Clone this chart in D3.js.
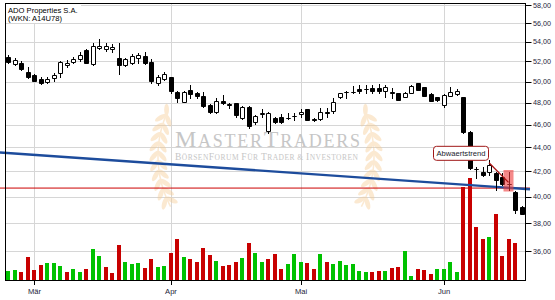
<!DOCTYPE html>
<html>
<head>
<meta charset="utf-8">
<script src="https://cdn.jsdelivr.net/npm/d3@7"></script>
<style>
  body { margin: 0; background: #fff; }
  svg { display: block; font-family: "Liberation Sans", Arial, sans-serif; }
</style>
</head>
<body>
<svg width="555" height="300"></svg>
<script>
// trading days shown (Xetra, 2019)
const dates = [
  "2019-02-25","2019-02-26","2019-02-27","2019-02-28",
  "2019-03-01","2019-03-04","2019-03-05","2019-03-06","2019-03-07","2019-03-08","2019-03-11","2019-03-12",
  "2019-03-13","2019-03-14","2019-03-15","2019-03-18","2019-03-19","2019-03-20","2019-03-21","2019-03-22",
  "2019-03-25","2019-03-26","2019-03-27","2019-03-28","2019-03-29",
  "2019-04-01","2019-04-02","2019-04-03","2019-04-04","2019-04-05","2019-04-08","2019-04-09","2019-04-10",
  "2019-04-11","2019-04-12","2019-04-15","2019-04-16","2019-04-17","2019-04-18","2019-04-23","2019-04-24",
  "2019-04-25","2019-04-26","2019-04-29","2019-04-30",
  "2019-05-02","2019-05-03","2019-05-06","2019-05-07","2019-05-08","2019-05-09","2019-05-10","2019-05-13",
  "2019-05-14","2019-05-15","2019-05-16","2019-05-17","2019-05-20","2019-05-21","2019-05-22","2019-05-23",
  "2019-05-24","2019-05-27","2019-05-28","2019-05-29","2019-05-30","2019-05-31",
  "2019-06-03","2019-06-04","2019-06-05","2019-06-06","2019-06-07","2019-06-10","2019-06-11","2019-06-12",
  "2019-06-13","2019-06-14","2019-06-17","2019-06-18","2019-06-19"
]

const open = [
  52.41,51.73,51.86,50.98,50.65,50.29,49.99,50.33,50.82,51.61,
  51.93,52.27,53.16,51.70,53.34,53.30,53.24,52.31,51.64,51.86,
  52.31,52.55,51.96,49.90,50.26,50.42,48.98,48.09,49.20,48.94,
  48.63,47.78,47.12,48.15,47.87,47.94,46.57,47.57,46.21,46.99,
  45.47,46.57,46.72,46.55,46.75,46.94,47.39,46.46,46.48,47.12,
  47.26,48.57,48.95,48.99,49.30,49.24,49.36,49.36,49.13,48.98,
  48.89,48.57,48.94,49.84,49.46,48.82,48.51,47.78,48.63,48.82,
  48.51,45.38,42.21,41.98,41.98,41.90,41.57,41.03,40.40,39.24
]
const high = [
  52.65,52.34,52.03,51.41,50.75,50.46,50.42,50.88,52.03,52.13,
  52.47,52.93,53.27,53.86,54.28,53.86,53.78,53.92,52.34,52.75,
  52.89,52.96,52.21,50.65,50.92,50.46,49.11,49.06,49.68,48.98,
  48.98,47.87,48.41,48.72,47.99,47.96,47.69,47.65,46.90,47.42,
  47.10,46.72,46.96,47.03,47.03,47.39,47.42,46.60,47.48,47.48,
  48.41,48.91,49.13,49.58,49.68,49.68,49.68,49.77,49.68,49.36,
  48.91,49.01,49.63,49.87,49.49,48.87,48.54,48.77,49.46,49.27,
  48.54,45.40,42.40,42.40,42.96,41.96,41.84,41.98,40.41,39.26
]
const low = [
  51.83,51.64,51.14,50.35,50.06,49.77,49.84,50.09,50.48,51.41,
  51.80,52.06,51.83,51.64,53.27,53.06,52.99,50.75,51.54,51.78,
  51.80,51.78,49.84,49.68,50.19,48.94,48.09,48.06,48.41,48.41,
  47.63,47.03,47.05,47.87,47.48,46.72,46.51,45.73,46.05,46.69,
  45.24,46.12,46.12,46.54,46.42,46.72,46.37,46.33,46.42,46.72,
  47.08,48.44,48.41,48.94,48.94,48.89,48.89,48.89,48.56,48.41,
  48.20,48.51,48.91,49.15,48.58,48.12,48.15,47.63,48.58,48.72,
  45.29,42.23,41.48,41.64,41.72,40.54,40.95,40.54,38.74,38.65
]
const close = [
  51.93,52.13,51.24,50.42,50.09,49.90,50.26,50.65,51.90,51.86,
  52.21,52.62,51.86,53.58,53.61,53.55,53.51,51.64,52.24,52.55,
  52.65,51.86,50.09,50.48,50.72,49.13,48.41,48.98,48.79,48.63,
  47.69,47.17,48.18,47.94,47.75,46.87,47.63,45.88,46.78,47.05,
  47.03,46.26,46.21,46.60,46.78,47.17,46.42,46.39,47.17,47.08,
  48.09,48.89,48.98,49.02,49.06,49.27,49.11,49.09,49.51,48.94,
  48.25,48.94,49.58,49.20,48.63,48.15,48.20,48.72,49.04,49.06,
  45.38,42.27,42.17,41.72,42.54,41.33,40.99,40.97,38.94,38.69
]
const prevClose = 51.80

// volume in thousand shares (last day has none yet)
const volume = [
  90,100,80,230,100,150,170,170,140,80,
  110,80,110,310,240,130,70,350,180,160,
  170,120,210,130,140,270,410,230,210,180,
  320,250,190,140,150,180,220,370,270,180,
  210,260,110,160,260,180,170,110,260,180,
  160,190,150,160,90,83,83,90,90,123,
  130,293,40,113,103,60,113,113,183,83,
  933,1020,533,410,430,660,243,410,373,null
]

const priceTicks = [36, 38, 40, 42, 44, 46, 48, 50, 52, 54, 56, 58]
const monthTicks = [["Mär", "2019-03-01"], ["Apr", "2019-04-01"], ["Mai", "2019-05-02"], ["Jun", "2019-06-03"]]
const titleLines = ["ADO Properties S.A.", "(WKN: A14U78)"]

// drawings
const supportLevel = 40.67
const longTrend = [["2019-02-25", 43.53], ["2019-06-19", 40.62]]
const downTrend = [["2019-06-12", 42.71], ["2019-06-17", 41.12]]
const downTrendLabel = "Abwaertstrend"
const highlight = ["2019-06-17", 40.40, 42.12]

const svg = d3.select("svg")
const W = 555, H = 300
const pLeft = 5, pRight = 525.5, pTop = 3.5, pBottom = 280

const x = d3.scalePoint().domain(dates).range([8, 521.5])
const y = d3.scaleLog().domain([34.03, 58]).range([pBottom, 5])
const yVol = d3.scaleLinear().domain([0, 1200]).range([pBottom, 160])

const green = "#00c200", red = "#c80000"

svg.append("rect").attr("width", W).attr("height", H).attr("fill", "#fff")

// grid
const grid = svg.append("g").attr("stroke", "#d6d6d6").attr("stroke-width", 1)
grid.selectAll("line.h").data(priceTicks).enter().append("line")
  .attr("x1", pLeft).attr("x2", pRight)
  .attr("y1", d => Math.round(y(d)) + 0.5).attr("y2", d => Math.round(y(d)) + 0.5)
grid.selectAll("line.v").data(monthTicks).enter().append("line")
  .attr("x1", d => Math.round(x(d[1])) + 0.5).attr("x2", d => Math.round(x(d[1])) + 0.5)
  .attr("y1", pTop).attr("y2", pBottom)

// watermark
const wm = svg.append("g")
const leafColor = "#f6cb93"
function laurel(sign) {
  const cx = 266, cy = 156, r = 108
  const g = wm.append("g").attr("fill", leafColor).attr("opacity", 0.42)
  const a0 = 152, a1 = 203
  const arc = d3.range(a0, a1 + 0.1, 0.5).map(a => {
    const t = a * Math.PI / 180
    return [cx + sign * r * Math.cos(t), cy + r * Math.sin(t)]
  })
  g.append("path").attr("d", d3.line()(arc)).attr("fill", "none")
    .attr("stroke", leafColor).attr("stroke-width", 1.5)
  d3.range(a0 + 3, a1, 5).forEach(a => {
    const t = a * Math.PI / 180
    const px = cx + sign * r * Math.cos(t), py = cy + r * Math.sin(t)
    const tang = Math.atan2(-Math.cos(t), sign * Math.sin(t)) * 180 / Math.PI
    ;[-1, 1].forEach(s => {
      const off = 4
      const nx = sign * Math.cos(t) * s * off, ny = Math.sin(t) * s * off
      g.append("ellipse")
        .attr("cx", px + nx).attr("cy", py + ny)
        .attr("rx", 6.5).attr("ry", 2.4)
        .attr("transform", `rotate(${tang + s * sign * 40 + 180},${px + nx},${py + ny})`)
    })
  })
  const t = a1 * Math.PI / 180
  g.append("ellipse").attr("cx", cx + sign * r * Math.cos(t)).attr("cy", cy + r * Math.sin(t) - 4)
    .attr("rx", 2.4).attr("ry", 6)
}
laurel(1)
laurel(-1)

const mt = wm.append("text").attr("x", 175).attr("y", 147)
  .attr("font-family", "'Liberation Serif', 'DejaVu Serif', serif")
  .attr("fill", "#c6c6c6").attr("textLength", 185).attr("lengthAdjust", "spacing")
mt.append("tspan").attr("font-size", 24).text("M")
mt.append("tspan").attr("font-size", 18).text("ASTER")
mt.append("tspan").attr("font-size", 24).text("T")
mt.append("tspan").attr("font-size", 18).text("RADERS")

const st = wm.append("text").attr("x", 175).attr("y", 160)
  .attr("font-family", "'Liberation Serif', 'DejaVu Serif', serif")
  .attr("fill", "#c6c6c6").attr("textLength", 183).attr("lengthAdjust", "spacing")
;[["B", 9.5], ["ÖRSEN", 7.5], ["F", 9.5], ["ORUM ", 7.5], ["F", 9.5], ["ÜR ", 7.5], ["T", 9.5], ["RADER & ", 7.5], ["I", 9.5], ["NVESTOREN", 7.5]]
  .forEach(p => st.append("tspan").attr("font-size", p[1]).text(p[0]))

// volume
const candles = dates.map((d, i) => ({
  date: d, o: open[i], h: high[i], l: low[i], c: close[i], v: volume[i],
  prev: i === 0 ? prevClose : close[i - 1]
}))

svg.append("g").selectAll("rect").data(candles.filter(d => d.v != null)).enter().append("rect")
  .attr("x", d => Math.round(x(d.date)) - 2)
  .attr("width", 4)
  .attr("y", d => Math.round(yVol(d.v)))
  .attr("height", d => pBottom - Math.round(yVol(d.v)))
  .attr("fill", d => d.c >= d.prev ? green : red)

// support line and long trend line
svg.append("line")
  .attr("x1", 0).attr("x2", 530)
  .attr("y1", y(supportLevel)).attr("y2", y(supportLevel))
  .attr("stroke", "#cc0000").attr("stroke-width", 1)

const tx0 = x(longTrend[0][0]), ty0 = y(longTrend[0][1])
const tx1 = x(longTrend[1][0]), ty1 = y(longTrend[1][1])
const slope = (ty1 - ty0) / (tx1 - tx0)
svg.append("line")
  .attr("x1", 0).attr("y1", ty0 + (0 - tx0) * slope)
  .attr("x2", 530).attr("y2", ty0 + (530 - tx0) * slope)
  .attr("stroke", "#1d4c9c").attr("stroke-width", 2.4)

// candles
const cg = svg.append("g")
candles.forEach(d => {
  const cx = Math.round(x(d.date))
  const yt = Math.round(y(Math.max(d.o, d.c))), yb = Math.round(y(Math.min(d.o, d.c)))
  cg.append("line")
    .attr("x1", cx + 0.5).attr("x2", cx + 0.5)
    .attr("y1", Math.round(y(d.h))).attr("y2", Math.round(y(d.l)) + 1)
    .attr("stroke", "#000")
  cg.append("path")
    .attr("d", `M${cx - 1.5},${yt + 0.5}H${cx + 2.5}V${yb + 0.5}H${cx - 1.5}Z`)
    .attr("fill", d.c >= d.o ? "#fff" : "#000")
    .attr("stroke", "#000")
})

// highlight box
svg.append("rect")
  .attr("x", x(highlight[0]) - 5).attr("width", 10)
  .attr("y", y(highlight[2])).attr("height", y(highlight[1]) - y(highlight[2]))
  .attr("fill", "#ee3a3a").attr("opacity", 0.6)

// down trend with label
const dx0 = x(downTrend[0][0]), dy0 = y(downTrend[0][1])
svg.append("line")
  .attr("x1", dx0).attr("y1", dy0)
  .attr("x2", x(downTrend[1][0])).attr("y2", y(downTrend[1][1]))
  .attr("stroke", "#a80f0f").attr("stroke-width", 1.3)

const lbl = svg.append("g")
lbl.append("rect")
  .attr("x", dx0 - 55.5).attr("y", dy0 - 16.5)
  .attr("width", 55).attr("height", 14).attr("rx", 3)
  .attr("fill", "#fff").attr("stroke", "#a01818")
lbl.append("text")
  .attr("x", dx0 - 28).attr("y", dy0 - 6.5)
  .attr("text-anchor", "middle").attr("font-size", 7.6).attr("fill", "#1b1b2e")
  .text(downTrendLabel)

// frame & axes
const ax = svg.append("g").attr("stroke", "#000").attr("stroke-width", 1)
ax.append("line").attr("x1", pLeft + 0.5).attr("x2", pLeft + 0.5).attr("y1", pTop).attr("y2", pBottom + 0.5)
ax.append("line").attr("x1", pLeft).attr("x2", pRight + 0.5).attr("y1", pTop).attr("y2", pTop)
ax.append("line").attr("x1", pRight).attr("x2", pRight).attr("y1", pTop).attr("y2", pBottom + 0.5)
ax.append("line").attr("x1", pLeft).attr("x2", pRight + 0.5).attr("y1", pBottom + 0.5).attr("y2", pBottom + 0.5)

ax.selectAll("line.yt").data(priceTicks).enter().append("line")
  .attr("x1", pRight).attr("x2", pRight + 6)
  .attr("y1", d => Math.round(y(d)) + 0.5).attr("y2", d => Math.round(y(d)) + 0.5)
ax.selectAll("line.xt").data(monthTicks).enter().append("line")
  .attr("x1", d => Math.round(x(d[1])) + 0.5).attr("x2", d => Math.round(x(d[1])) + 0.5)
  .attr("y1", pBottom).attr("y2", pBottom + 5)

const fmt = d3.format(".2f")
svg.append("g").selectAll("text").data(priceTicks).enter().append("text")
  .attr("x", 533).attr("y", d => y(d) + 2.6)
  .attr("font-size", 7.2).attr("fill", "#23233a")
  .text(d => fmt(d).replace(".", ","))

svg.append("g").selectAll("text").data(monthTicks).enter().append("text")
  .attr("x", d => x(d[1]) + 0.5).attr("y", 294)
  .attr("text-anchor", "middle").attr("font-size", 7.6).attr("fill", "#23233a")
  .text(d => d[0])

// title box
svg.append("rect").attr("x", pLeft + 1).attr("y", pTop + 0.5).attr("width", 75).attr("height", 19)
  .attr("fill", "#fff")
svg.append("g").selectAll("text").data(titleLines).enter().append("text")
  .attr("x", 8).attr("y", (d, i) => 12.5 + i * 8.5)
  .attr("font-size", 7.6).attr("fill", "#000")
  .text(d => d)
</script>
</body>
</html>
